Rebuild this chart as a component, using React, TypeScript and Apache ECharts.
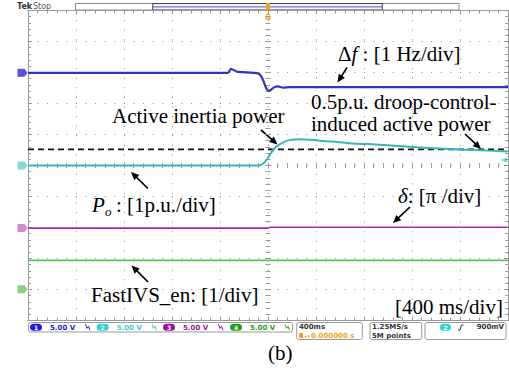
import React, { useEffect, useRef } from "react";
import * as echarts from "echarts";

// ---- data (time in ms, amplitude in screen divisions) ----
const dfTime = [-2000, -333, -308, -261, -83, -50, -11, 8, 50, 83, 125, 183, 2000];
const dfDiv = [2.99, 2.99, 3.12, 3.03, 2.97, 2.83, 2.46, 2.41, 2.52, 2.55, 2.51, 2.53, 2.53];
const poTime = [-2000, -92, -50, -11, 17, 44, 100, 169, 267, 417, 683, 933, 1242, 1517, 1767, 2000];
const poDiv = [0, 0, 0.04, 0.18, 0.35, 0.51, 0.69, 0.81, 0.85, 0.81, 0.72, 0.67, 0.59, 0.53, 0.49, 0.45];
const deltaTime = [-2000, 0, 17, 2000];
const deltaDiv = [-2.02, -2.02, -1.99, -1.99];
const enTime = [-2000, 2000];
const enDiv = [-3.06, -3.06];
const droopRef = 0.52;
const groundLevels = [2.99, 0, -2.02, -3.99];
const channelLabels = ["1", "2", "3", "4"];
const channelScales = ["5.00 V", "5.00 V", "5.00 V", "5.00 V"];
const triggerLevel = 0.18;
const timebase = "400ms";
const triggerPos = "0.000000 s";
const sampleRate = "1.25MS/s";
const recordLen = "5M points";
const triggerVolt = "900mV";

const chColors = ["#3232c8", "#38b6b6", "#b02ab0", "#5cc05c"];
const markColors = ["#2a2ad8", "#62d0d0", "#c070c0", "#70c070"];
const pillColors = ["#1e1ee0", "#30d0d8", "#a010a0", "#20a020"];

const SERIF = "'Liberation Serif', 'Times New Roman', serif";
const SANS = "'DejaVu Sans', sans-serif";

function zip(a: number[], b: number[]) {
  return a.map((v, i) => [v, b[i]]);
}

function arrow(x1: number, y1: number, x2: number, y2: number) {
  const dx = x2 - x1, dy = y2 - y1;
  const L = Math.hypot(dx, dy);
  const ux = dx / L, uy = dy / L;
  const hl = 8, hw = 3.6;
  const bx = x2 - ux * hl, by = y2 - uy * hl;
  return [
    { type: "line", shape: { x1, y1, x2: bx + ux, y2: by + uy }, style: { stroke: "#000", lineWidth: 1.7 }, silent: true },
    {
      type: "polygon",
      shape: { points: [[x2, y2], [bx - uy * hw, by + ux * hw], [bx + uy * hw, by - ux * hw]] },
      style: { fill: "#000" },
      silent: true,
    },
  ];
}

function txt(text: string, x: number, y: number, font: string, fill = "#000", extra: any = {}) {
  return {
    type: "text",
    x,
    y,
    silent: true,
    style: { text, font, fill, verticalAlign: "middle", align: "left", ...extra },
  };
}

function bwIcon(x: number, y: number, color: string) {
  return {
    type: "polyline",
    shape: { points: [[x, y - 3], [x + 1.5, y + 1], [x + 3, y - 1], [x + 4.5, y + 3]] },
    style: { stroke: color, lineWidth: 1, fill: null },
    silent: true,
  };
}

function pill(x: number, y: number, w: number, color: string, label: string) {
  return [
    { type: "rect", shape: { x, y, width: w, height: 7, r: 3.5 }, style: { fill: color }, silent: true },
    txt(label, x + w / 2, y + 3.7, `bold 6px ${SANS}`, "#fff", { align: "center" }),
  ];
}

export default function App() {
  const ref = useRef<HTMLDivElement>(null);

  useEffect(() => {
    if (!ref.current) return;
    const chart = echarts.init(ref.current, null, { renderer: "svg" });

    const gridColor = "#8c8c8c";
    const borderAxis = (pos: string, isX: boolean) => ({
      type: "value",
      position: pos,
      min: isX ? -2000 : -5,
      max: isX ? 2000 : 5,
      interval: isX ? 400 : 1,
      axisLine: { show: true, onZero: false, lineStyle: { color: "#9a9a9a", width: 1 } },
      axisTick: { show: true, inside: true, length: 4, lineStyle: { color: "#9a9a9a" } },
      minorTick: { show: true, splitNumber: 5, length: 3, lineStyle: { color: "#9a9a9a" } },
      axisLabel: { show: false },
      splitLine: { show: false },
    });
    const centerAxis = (pos: string, isX: boolean, inside: boolean) => ({
      type: "value",
      position: pos,
      min: isX ? -2000 : -5,
      max: isX ? 2000 : 5,
      interval: isX ? 400 : 1,
      axisLine: { show: false, onZero: true, onZeroAxisIndex: 0 },
      axisTick: { show: true, inside, length: 3, lineStyle: { color: "#9a9a9a" } },
      minorTick: { show: true, splitNumber: 5, length: 2.5, lineStyle: { color: "#9a9a9a" } },
      axisLabel: { show: false },
      splitLine: { show: false },
    });

    const xAxes: any[] = [
      {
        ...borderAxis("bottom", true),
        splitLine: { show: true, lineStyle: { color: gridColor, type: [1, 8.6], width: 1 } },
      },
      borderAxis("top", true),
      centerAxis("bottom", true, true),
      centerAxis("bottom", true, false),
    ];
    const yAxes: any[] = [
      {
        ...borderAxis("left", false),
        splitLine: { show: true, lineStyle: { color: gridColor, type: [1, 8.6], width: 1 } },
      },
      borderAxis("right", false),
      centerAxis("left", false, true),
      centerAxis("left", false, false),
    ];

    const graphic: any[] = [];
    // top status
    graphic.push(txt("Tek", 17, 6.5, `bold 8px ${SANS}`, "#333"));
    graphic.push(txt("Stop", 33, 6.5, `8px ${SANS}`, "#555"));
    graphic.push({ type: "rect", shape: { x: 75.5, y: 3.5, width: 383.5, height: 6.5 }, style: { fill: "#fff", stroke: "#888", lineWidth: 1 }, silent: true });
    graphic.push({ type: "rect", shape: { x: 152.7, y: 3.5, width: 229.6, height: 6.5 }, style: { fill: "#f4f4ff", stroke: "#444", lineWidth: 1 }, silent: true });
    graphic.push({ type: "line", shape: { x1: 153, y1: 6.8, x2: 382, y2: 6.8 }, style: { stroke: "#7070e8", lineWidth: 1.2 }, silent: true });
    graphic.push({ type: "rect", shape: { x: 266, y: 3, width: 4, height: 7.5, r: 1 }, style: { fill: "#f2a21e" }, silent: true });
    graphic.push({ type: "rect", shape: { x: 265.6, y: 13.5, width: 4.8, height: 6.5, r: 1.5 }, style: { fill: "#f2a21e" }, silent: true });
    graphic.push(txt("T", 268, 16.8, `bold 5px ${SANS}`, "#fff", { align: "center" }));

    // annotations
    graphic.push({
      type: "text",
      x: 338,
      y: 54,
      silent: true,
      style: {
        text: "{n|Δ}{i|f}{n| : [1 Hz/div]}",
        verticalAlign: "middle",
        rich: {
          n: { font: `21px ${SERIF}`, fill: "#000" },
          i: { font: `italic 21px ${SERIF}`, fill: "#000" },
        },
      },
    });
    graphic.push(...arrow(347, 67.5, 337.5, 82.5));
    graphic.push(txt("Active inertia power", 112, 116, `21px ${SERIF}`));
    graphic.push(...arrow(261, 130, 277.5, 144.5));
    graphic.push(txt("0.5p.u. droop-control-", 311, 102, `21px ${SERIF}`));
    graphic.push(txt("induced active power", 311, 124, `21px ${SERIF}`));
    graphic.push(...arrow(465, 134, 481, 149));
    graphic.push(...arrow(148, 188.5, 131, 172));
    graphic.push(txt("P", 92, 205, `italic 21px ${SERIF}`));
    graphic.push(txt("o", 105, 211, `italic 13px ${SERIF}`));
    graphic.push(txt(": [1p.u./div]", 116, 205, `21px ${SERIF}`));
    graphic.push({
      type: "text",
      x: 398,
      y: 195.5,
      silent: true,
      style: {
        text: "{i|δ}{n|: [π /div]}",
        verticalAlign: "middle",
        rich: {
          n: { font: `21px ${SERIF}`, fill: "#000" },
          i: { font: `italic 21px ${SERIF}`, fill: "#000" },
        },
      },
    });
    graphic.push(...arrow(410, 207, 393, 223));
    graphic.push(...arrow(148, 282, 131.5, 265.5));
    graphic.push(txt("FastIVS_en: [1/div]", 91, 294.5, `21px ${SERIF}`));
    graphic.push(txt("[400 ms/div]", 395, 307, `21px ${SERIF}`));
    graphic.push(txt("(b)", 268, 352.5, `21px ${SERIF}`));

    // bottom status bar
    graphic.push({ type: "rect", shape: { x: 28.5, y: 322.5, width: 264, height: 9.5, r: 2 }, style: { fill: "#fff", stroke: "#999", lineWidth: 1 }, silent: true });
    const pillX = [30, 96.7, 163, 230];
    const scaleX = [50, 116.7, 183, 250];
    const iconX = [85.5, 152, 218.5, 285];
    for (let i = 0; i < 4; i++) {
      graphic.push(...pill(pillX[i], 323.7, 12, pillColors[i], channelLabels[i]));
      graphic.push(txt(channelScales[i], scaleX[i], 327.5, `bold 7px ${SANS}`, pillColors[i]));
      graphic.push(bwIcon(iconX[i], 327.3, pillColors[i]));
    }
    graphic.push({ type: "rect", shape: { x: 296.7, y: 322.5, width: 65.6, height: 17, r: 2 }, style: { fill: "#fff", stroke: "#999", lineWidth: 1 }, silent: true });
    graphic.push(txt(timebase, 299, 327.3, `bold 7px ${SANS}`, "#333"));
    graphic.push({ type: "rect", shape: { x: 299, y: 333, width: 4, height: 5 }, style: { fill: "#f2a21e" }, silent: true });
    graphic.push(txt("+▾", 303.5, 335.8, `bold 5px ${SANS}`, "#f2a21e"));
    graphic.push(txt(triggerPos, 311, 335.8, `bold 7px ${SANS}`, "#f2a21e"));
    graphic.push({ type: "rect", shape: { x: 370, y: 322.5, width: 51.7, height: 17, r: 2 }, style: { fill: "#fff", stroke: "#999", lineWidth: 1 }, silent: true });
    graphic.push(txt(sampleRate, 372, 327.3, `bold 7px ${SANS}`, "#333"));
    graphic.push(txt(recordLen, 372, 335.8, `bold 7px ${SANS}`, "#333"));
    graphic.push({ type: "rect", shape: { x: 425, y: 322.5, width: 81, height: 17, r: 2 }, style: { fill: "#fff", stroke: "#999", lineWidth: 1 }, silent: true });
    graphic.push(...pill(440, 323.7, 11, pillColors[1], "2"));
    graphic.push({ type: "polyline", shape: { points: [[458, 330], [460, 330], [461.5, 325], [463.5, 325]] }, style: { stroke: "#333", lineWidth: 1, fill: null }, silent: true });
    graphic.push(txt(triggerVolt, 504, 327.3, `bold 7px ${SANS}`, "#333", { align: "right" }));

    const option: any = {
      animation: false,
      backgroundColor: "#fff",
      grid: { left: 28, top: 10.5, width: 480, height: 310, show: false },
      xAxis: xAxes,
      yAxis: yAxes,
      series: [
        {
          type: "line",
          name: "dashed",
          data: [[-2000, droopRef], [2000, droopRef]],
          symbol: "none",
          lineStyle: { color: "#111", width: 1.6, type: [6, 4] },
          z: 3,
        },
        {
          type: "line",
          name: "FastIVS_en",
          data: zip(enTime, enDiv),
          symbol: "none",
          lineStyle: { color: chColors[3], width: 1.8 },
          z: 4,
        },
        {
          type: "line",
          name: "delta",
          data: zip(deltaTime, deltaDiv),
          symbol: "none",
          lineStyle: { color: chColors[2], width: 1.6 },
          z: 4,
        },
        {
          type: "line",
          name: "Po",
          data: zip(poTime, poDiv),
          symbol: "none",
          smooth: 0.25,
          lineStyle: { color: chColors[1], width: 2 },
          z: 5,
        },
        {
          type: "line",
          name: "df",
          data: zip(dfTime, dfDiv),
          symbol: "none",
          smooth: 0.2,
          lineStyle: { color: chColors[0], width: 2.2 },
          z: 5,
        },
        {
          type: "scatter",
          name: "ground markers",
          clip: false,
          data: groundLevels.map((g, i) => ({
            value: [-2000, g],
            itemStyle: { color: markColors[i] },
          })),
          symbol: "path://M0,0H7L10,4L7,8H0Z",
          symbolSize: [10, 8],
          symbolOffset: [-5.5, 0],
          z: 6,
        },
        {
          type: "scatter",
          name: "trigger level",
          clip: false,
          data: [[2000, triggerLevel]],
          symbol: "triangle",
          symbolRotate: 90,
          symbolSize: [5, 6],
          symbolOffset: [-4, 0],
          itemStyle: { color: "#30c8d0" },
          z: 6,
        },
      ],
      graphic,
    };
    chart.setOption(option);
    return () => chart.dispose();
  }, []);

  return (
    <div
      ref={ref}
      style={{ position: "absolute", left: 0, top: 0, width: 509, height: 368, background: "#fff" }}
    />
  );
}
